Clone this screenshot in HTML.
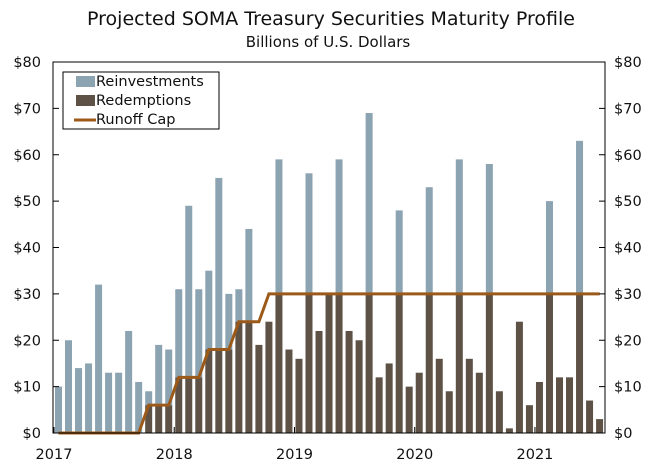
<!DOCTYPE html>
<html><head><meta charset="utf-8"><style>
body{margin:0;background:#fff;width:661px;height:469px;overflow:hidden}
svg{font-family:"DejaVu Sans","Liberation Sans",sans-serif}
</style></head><body>
<svg id="c" width="661" height="469" xmlns="http://www.w3.org/2000/svg">
<text x="331" y="25" text-anchor="middle" font-size="19" fill="#111">Projected SOMA Treasury Securities Maturity Profile</text>
<text x="328" y="47" text-anchor="middle" font-size="15" fill="#111">Billions of U.S. Dollars</text>
<g id="plot"></g>
<g>
<rect x="63" y="72" width="156" height="57" fill="#fff" stroke="#000" stroke-width="1"/>
<rect x="76" y="76" width="19" height="11" fill="#8ca3b2"/>
<text x="96" y="86" font-size="14.5" fill="#111">Reinvestments</text>
<rect x="76" y="95" width="19" height="11" fill="#5e5246"/>
<text x="96" y="105" font-size="14.5" fill="#111">Redemptions</text>
<line x1="74" y1="120" x2="96" y2="120" stroke="#9c5a1a" stroke-width="3"/>
<text x="96" y="124" font-size="14.5" fill="#111">Runoff Cap</text>
</g>
</svg>
<script>
const totals=[10,20,14,15,32,13,13,22,11,9,19,18,
31,49,31,35,55,30,31,44,19,24,59,18,
16,56,22,30,59,22,20,69,12,15,48,10,
13,53,16,9,59,16,13,58,9,1,24,6,
11,50,12,12,63,7,3];
const cap=[0,0,0,0,0,0,0,0,0,6,6,6,
12,12,12,18,18,18,24,24,24,30,30,30,
30,30,30,30,30,30,30,30,30,30,30,30,
30,30,30,30,30,30,30,30,30,30,30,30,
30,30,30,30,30,30,30];
const yTicks=[0,10,20,30,40,50,60,70,80];
const years=["2017","2018","2019","2020","2021"];
const NS="http://www.w3.org/2000/svg";
const L=53,R=605,T=62,B=433;
const y=v=>B-(v/80)*(B-T);
const xi=i=>55+i*10.02;
const g=document.getElementById('plot');
function mk(t,a){const e=document.createElementNS(NS,t);for(const k in a)e.setAttribute(k,a[k]);g.appendChild(e);return e;}
totals.forEach((t,i)=>{
  const red=Math.min(t,cap[i]);
  if(t>red){const r=mk('rect',{x:xi(i),y:y(t),width:7,height:y(red)-y(t),fill:'#8ca3b2'});
  
  }
  if(red>0){const r=mk('rect',{x:xi(i),y:y(red),width:7,height:B-y(red),fill:'#5e5246'});
  
  }
});
let pts=cap.map((c,i)=>(xi(i)+3.5)+','+y(c)).join(' ');
const pl=mk('polyline',{points:pts,fill:'none',stroke:'#9c5a1a','stroke-width':3});


const fr=mk('rect',{x:L,y:T,width:R-L,height:B-T,fill:'none',stroke:'#000','stroke-width':1});


yTicks.forEach(v=>{
  mk('line',{x1:L,x2:L+6,y1:y(v),y2:y(v),stroke:'#000'});
  mk('line',{x1:R-6,x2:R,y1:y(v),y2:y(v),stroke:'#000'});
  const a=mk('text',{x:41,y:y(v)+5,'text-anchor':'end','font-size':14.5,fill:'#111'});a.textContent='$'+v;
  
  
  const b=mk('text',{x:614,y:y(v)+5,'font-size':14.5,fill:'#111'});b.textContent='$'+v;
  
  
});
years.forEach((yr,k)=>{
  const x=xi(k*12)-1;
  mk('line',{x1:x,x2:x,y1:B,y2:B-6,stroke:'#000'});
  const t=mk('text',{x:x,y:459,'text-anchor':'middle','font-size':14.5,fill:'#111'});t.textContent=yr;
  
  
});
</script>
</body></html>
